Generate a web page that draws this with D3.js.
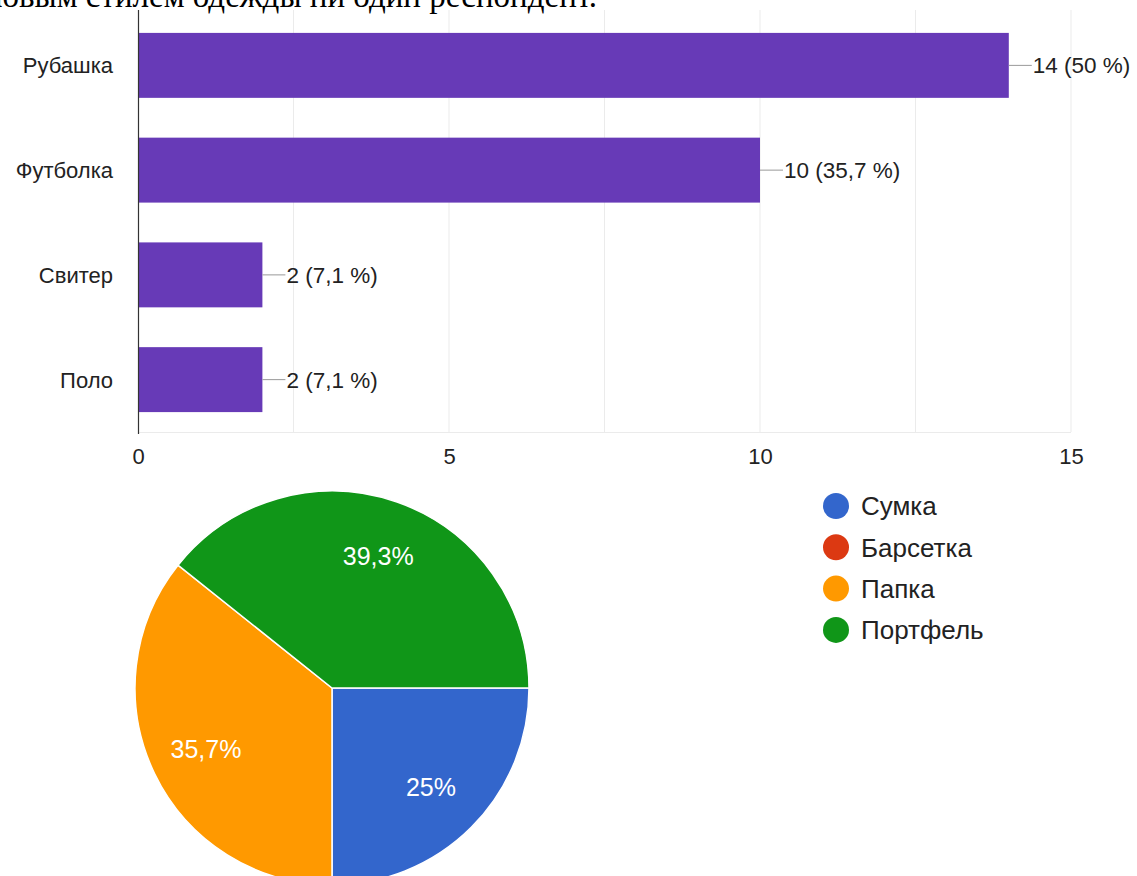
<!DOCTYPE html>
<html>
<head>
<meta charset="utf-8">
<script src="https://cdn.jsdelivr.net/npm/d3@7"></script>
<style>
  body { margin: 0; background: #fff; overflow: hidden; }
  svg { display: block; }
</style>
</head>
<body>
<div id="wrapper"></div>
<script>
// bar chart data
const barCategories = ['Рубашка', 'Футболка', 'Свитер', 'Поло'];
const barValues = [14, 10, 2, 2];
const barLabels = ['14 (50 %)', '10 (35,7 %)', '2 (7,1 %)', '2 (7,1 %)'];
const xTicks = [0, 5, 10, 15];
const xGrid = [0, 2.5, 5, 7.5, 10, 12.5, 15];

// pie chart data
const pieCategories = ['Сумка', 'Барсетка', 'Папка', 'Портфель'];
const pieValues = [7, 0, 10, 11];
const pieLabels = ['25%', '', '35,7%', '39,3%'];
const pieColors = ['#3366cc', '#dc3912', '#ff9900', '#109618'];

const headerText = 'деловым стилем одежды ни один респондент.';

function drawPage() {
    const width = 1137;
    const height = 876;
    const font = '"Liberation Sans", Arial, sans-serif';

    const svg = d3.select('#wrapper')
        .append('svg')
        .attr('width', width)
        .attr('height', height);

    // cut-off line of document text above the chart
    svg.append('text')
        .attr('x', 597)
        .attr('y', 7)
        .attr('text-anchor', 'end')
        .attr('font-family', '"Liberation Serif", "Times New Roman", serif')
        .attr('font-size', '33px')
        .attr('fill', '#000')
        .text(headerText);

    // 1. Bar chart
    const xScale = d3.scaleLinear()
        .domain([0, 15])
        .range([138, 1071]);

    const yScale = d3.scaleBand()
        .domain(barCategories)
        .range([13, 432])
        .paddingInner(0.38)
        .paddingOuter(0.19);

    const bars = svg.append('g');

    // grid lines
    bars.selectAll('.grid')
        .data(xGrid.filter(d => d > 0))
        .join('line')
        .attr('x1', d => xScale(d))
        .attr('x2', d => xScale(d))
        .attr('y1', 10)
        .attr('y2', 432)
        .attr('stroke', '#ebebeb')
        .attr('stroke-width', 1);

    bars.append('line')
        .attr('x1', xScale(0))
        .attr('x2', xScale(15))
        .attr('y1', 432.5)
        .attr('y2', 432.5)
        .attr('stroke', '#ebebeb');

    bars.selectAll('.bar')
        .data(barValues)
        .join('rect')
        .attr('x', xScale(0))
        .attr('y', (d, i) => yScale(barCategories[i]))
        .attr('width', d => xScale(d) - xScale(0))
        .attr('height', yScale.bandwidth())
        .attr('fill', '#673ab7');

    // baseline
    bars.append('line')
        .attr('x1', xScale(0) + 0.5)
        .attr('x2', xScale(0) + 0.5)
        .attr('y1', 10)
        .attr('y2', 434)
        .attr('stroke', '#333')
        .attr('stroke-width', 1.2);

    // value labels with leader lines
    barValues.forEach((v, i) => {
        const cy = yScale(barCategories[i]) + yScale.bandwidth() / 2;
        bars.append('line')
            .attr('x1', xScale(v))
            .attr('x2', xScale(v) + 23)
            .attr('y1', cy)
            .attr('y2', cy)
            .attr('stroke', '#999')
            .attr('stroke-width', 1);
        bars.append('text')
            .attr('x', xScale(v) + 24)
            .attr('y', cy)
            .attr('dy', '0.36em')
            .attr('font-family', font)
            .attr('font-size', '22.5px')
            .attr('fill', '#222')
            .text(barLabels[i]);
    });

    // category labels
    bars.selectAll('.cat')
        .data(barCategories)
        .join('text')
        .attr('x', 113)
        .attr('y', d => yScale(d) + yScale.bandwidth() / 2)
        .attr('dy', '0.36em')
        .attr('text-anchor', 'end')
        .attr('font-family', font)
        .attr('font-size', '22px')
        .attr('fill', '#222')
        .text(d => d);

    // x axis tick labels
    const xAxis = svg.append('g')
        .attr('transform', 'translate(0, 432)')
        .call(d3.axisBottom(xScale).tickValues(xTicks).tickSize(0).tickPadding(16));
    xAxis.select('.domain').remove();
    xAxis.selectAll('text')
        .attr('font-family', font)
        .attr('font-size', '22px')
        .attr('fill', '#222');

    // 2. Pie chart
    const pie = d3.pie()
        .sort(null)
        .value(d => d)
        .startAngle(Math.PI / 2)
        .endAngle(Math.PI / 2 + 2 * Math.PI);

    const radius = 197;
    const arc = d3.arc().innerRadius(0).outerRadius(radius);
    const labelArc = d3.arc().innerRadius(radius * 0.71).outerRadius(radius * 0.71);

    const pieG = svg.append('g')
        .attr('transform', 'translate(332, 688)');

    const arcs = pie(pieValues);

    pieG.selectAll('path')
        .data(arcs)
        .join('path')
        .attr('d', arc)
        .attr('fill', (d, i) => pieColors[i])
        .attr('stroke', '#fff')
        .attr('stroke-width', d => d.value > 0 ? 1.5 : 0);

    pieG.selectAll('.plabel')
        .data(arcs)
        .join('text')
        .attr('transform', d => `translate(${labelArc.centroid(d)})`)
        .attr('text-anchor', 'middle')
        .attr('dy', '0.36em')
        .attr('font-family', font)
        .attr('font-size', '25px')
        .attr('fill', '#fff')
        .text((d, i) => pieLabels[i]);

    // legend
    const legend = svg.append('g')
        .attr('transform', 'translate(836, 506)');

    const legendItems = legend.selectAll('g')
        .data(pieCategories)
        .join('g')
        .attr('transform', (d, i) => `translate(0, ${i * 41.3})`);

    legendItems.append('circle')
        .attr('r', 13)
        .attr('fill', (d, i) => pieColors[i]);

    legendItems.append('text')
        .attr('x', 25)
        .attr('dy', '0.36em')
        .attr('font-family', font)
        .attr('font-size', '26px')
        .attr('fill', '#222')
        .text(d => d);
}

drawPage();
</script>
</body>
</html>
